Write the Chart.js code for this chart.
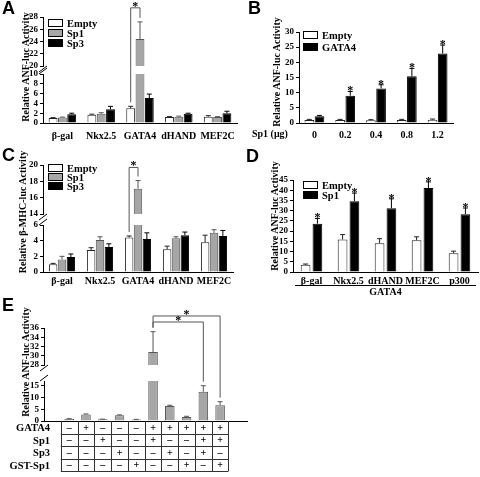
<!DOCTYPE html>
<html>
<head>
<meta charset="utf-8">
<title>Sp1 / GATA4 reporter assays</title>
<script src="https://cdn.jsdelivr.net/npm/chart.js"></script>
<style>
    body { margin: 0; background: #fff; }
    #fig {
        position: relative; width: 480px; height: 477px; overflow: hidden;
        font-family: "Liberation Serif", "Times New Roman", serif; font-weight: bold; color: #000;
    }
    #fig canvas { position: absolute; }
    .letter { position: absolute; font: bold 18px "Liberation Sans", Arial, sans-serif; line-height: 18px; }
    .ytitle {
        position: absolute; font-size: 10px; white-space: nowrap;
        transform: translate(-50%, -50%) rotate(-90deg);
    }
    .leg { position: absolute; font-size: 10.5px; display: flex; align-items: center; height: 10px; white-space: nowrap; }
    .leg .box { width: 13px; height: 6px; border: 1px solid #000; margin-right: 4px; }
    .note { position: absolute; font-size: 10px; white-space: nowrap; }
</style>
</head>
<body>
<div id="fig"></div>

<script>
    // ---------- data ----------
    const genes = ['β-gal', 'Nkx2.5', 'GATA4', 'dHAND', 'MEF2C'];

    // A: ANF-luc, Empty / Sp1 / Sp3
    const aEmpty    = [1.0, 1.7, 3.0, 1.2, 1.3];
    const aEmptyErr = [1.1, 1.8, 3.4, 1.3, 1.5];
    const aSp1      = [1.1, 1.9, 24.4, 1.3, 1.2];
    const aSp1Err   = [1.2, 2.1, 27.2, 1.4, 1.3];
    const aSp3      = [1.8, 2.8, 5.1, 1.9, 2.0];
    const aSp3Err   = [2.0, 3.4, 5.9, 2.0, 2.4];

    // B: dose of Sp1 (ug)
    const doses     = ['0', '0.2', '0.4', '0.8', '1.2'];
    const bEmpty    = [1.0, 1.0, 0.9, 1.0, 1.1];
    const bEmptyErr = [1.2, 1.2, 1.1, 1.2, 1.3];
    const bGata     = [2.2, 9.0, 11.4, 15.4, 22.9];
    const bGataErr  = [2.5, 10.4, 12.6, 18.0, 25.7];

    // C: beta-MHC-luc
    const cEmpty    = [1.0, 2.8, 4.4, 2.9, 3.8];
    const cEmptyErr = [1.1, 3.1, 4.6, 3.3, 4.7];
    const cSp1      = [1.6, 4.1, 17.1, 4.3, 5.0];
    const cSp1Err   = [2.0, 4.5, 18.1, 4.5, 5.4];
    const cSp3      = [1.9, 3.2, 4.2, 4.7, 4.6];
    const cSp3Err   = [2.3, 3.6, 5.0, 5.1, 5.3];

    // D: GATA4 + partner
    const dTargets  = ['β-gal', 'Nkx2.5', 'dHAND', 'MEF2C', 'p300'];
    const dEmpty    = [3.5, 15.9, 14.1, 15.5, 9.2];
    const dEmptyErr = [3.9, 18.3, 16.3, 17.2, 10.2];
    const dSp1      = [23.6, 34.6, 31.2, 41.1, 28.3];
    const dSp1Err   = [26.2, 38.6, 35.8, 44.1, 31.3];

    // E: combinations
    const eVals = [0.8, 2.8, 0.7, 2.4, 0.6, 30.8, 6.4, 1.7, 12.4, 6.7];
    const eErr  = [1.0, 3.0, 0.8, 2.6, 0.7, 35.2, 6.7, 2.0, 15.0, 8.2];
    const eRows = ['GATA4', 'Sp1', 'Sp3', 'GST-Sp1'];
    const eTable = [
        [0, 1, 0, 0, 0, 1, 1, 1, 1, 1],
        [0, 0, 1, 0, 0, 1, 0, 0, 1, 1],
        [0, 0, 0, 1, 0, 0, 1, 0, 1, 0],
        [0, 0, 0, 0, 1, 0, 0, 1, 0, 1]
    ];

    // ---------- setup ----------
    Chart.defaults.font.family = '"Liberation Serif", "Times New Roman", serif';
    Chart.defaults.font.weight = 'bold';
    Chart.defaults.font.size = 9;
    Chart.defaults.color = '#000';
    Chart.defaults.animation = false;

    const fig = document.getElementById('fig');
    const charts = {};
    const M = 8;
    const STAR_FONT = 'bold 12px "Liberation Serif", serif';

    function line(ctx, x1, y1, x2, y2) {
        ctx.beginPath();
        ctx.moveTo(x1, y1);
        ctx.lineTo(x2, y2);
        ctx.stroke();
    }

    // error bars, stars, brackets, axis breaks, table
    function decor(spec) {
        return {
            id: 'decor',
            afterDatasetsDraw(chart) {
                const ctx = chart.ctx, a = chart.chartArea, y = chart.scales.y;
                ctx.save();
                ctx.beginPath();
                ctx.rect(a.left, a.top - 1, a.right - a.left, a.bottom - a.top + 1);
                ctx.clip();
                ctx.lineWidth = 1;
                chart.data.datasets.forEach((ds, i) => {
                    ctx.strokeStyle = ds.borderColor;
                    chart.getDatasetMeta(i).data.forEach((bar, j) => {
                        const top = y.getPixelForValue(ds.err[j]);
                        line(ctx, bar.x, bar.y, bar.x, top);
                        line(ctx, bar.x - 2.5, top, bar.x + 2.5, top);
                    });
                });
                ctx.restore();
            },
            afterDraw(chart) {
                const ctx = chart.ctx, a = chart.chartArea, y = chart.scales.y;
                ctx.save();
                ctx.strokeStyle = '#000';
                ctx.fillStyle = '#000';
                ctx.lineWidth = 1;
                if (spec.breakBottom) line(ctx, a.left - 4, a.bottom + 6, a.left + 4, a.bottom);
                if (spec.breakTop) line(ctx, a.left - 4, a.top, a.left + 4, a.top - 6);

                ctx.font = STAR_FONT;
                ctx.textAlign = 'center';
                ctx.textBaseline = 'alphabetic';
                (spec.stars || []).forEach(([d, j]) => {
                    const bar = chart.getDatasetMeta(d).data[j];
                    ctx.fillText('*', bar.x, y.getPixelForValue(chart.data.datasets[d].err[j]) + 3);
                });

                // bracket ends may sit in the lower segment of a broken axis
                const endY = (d, j) => {
                    const e = chart.data.datasets[d].err[j];
                    if (!spec.lower || e >= y.min) return y.getPixelForValue(e);
                    const lo = charts[spec.lower];
                    return lo.canvas.offsetTop + lo.scales.y.getPixelForValue(e) - chart.canvas.offsetTop;
                };
                (spec.brackets || []).forEach(br => {
                    const xa = chart.getDatasetMeta(br.a[0]).data[br.a[1]].x;
                    const xb = chart.getDatasetMeta(br.b[0]).data[br.b[1]].x;
                    const top = y.getPixelForValue(br.top);
                    ctx.strokeStyle = '#555';
                    ctx.beginPath();
                    ctx.moveTo(xa, endY(br.a[0], br.a[1]) - 4);
                    ctx.lineTo(xa, top);
                    ctx.lineTo(xb, top);
                    ctx.lineTo(xb, endY(br.b[0], br.b[1]) - 4);
                    ctx.stroke();
                    ctx.fillText('*', (xa + xb) / 2, top + 2);
                });

                if (spec.table) {
                    const x = chart.scales.x, n = spec.table.rows, cols = spec.table.cols, h = 12.5;
                    const t0 = a.bottom;
                    ctx.strokeStyle = '#333';
                    for (let i = 0; i <= cols; i++) {
                        const px = Math.round(x.getPixelForValue(i - 0.5)) + 0.5;
                        line(ctx, px, t0, px, t0 + n * h);
                    }
                    const xl = x.getPixelForValue(-0.5), xr = x.getPixelForValue(cols - 0.5);
                    for (let r = 1; r <= n; r++) {
                        const py = Math.round(t0 + r * h) + 0.5;
                        line(ctx, xl, py, xr, py);
                    }
                }
                ctx.restore();
            }
        };
    }

    function makeChart(name, area, yW, xH, pad, config, spec) {
        pad = Object.assign({ l: M, t: M, r: M, b: M }, pad);
        const c = document.createElement('canvas');
        const w = pad.l + yW + (area.r - area.l) + pad.r;
        const h = pad.t + (area.b - area.t) + xH + pad.b;
        c.width = w;
        c.height = h;
        c.style.left = (area.l - yW - pad.l) + 'px';
        c.style.top = (area.t - pad.t) + 'px';
        c.style.width = w + 'px';
        c.style.height = h + 'px';
        fig.appendChild(c);
        const o = config.options;
        o.responsive = false;
        o.layout = { padding: { left: pad.l, top: pad.t, right: pad.r, bottom: pad.b } };
        o.scales.y.afterFit = s => { s.width = yW; };
        if (o.scales.x.display !== false) o.scales.x.afterFit = s => { s.height = xH; };
        o.plugins = { legend: { display: false }, tooltip: { enabled: false } };
        config.plugins = [decor(spec || {})];
        charts[name] = new Chart(c, config);
        return charts[name];
    }

    function barSet(label, data, err, fill, edge, skip) {
        return {
            label, data, err,
            backgroundColor: fill, borderColor: edge, borderWidth: 1,
            borderSkipped: skip === undefined ? 'start' : skip, clip: 0
        };
    }

    function yAxis(min, max, step) {
        return {
            min, max,
            ticks: { stepSize: step, padding: 2, includeBounds: false, font: { size: 9, lineHeight: 0.5 } },
            grid: { drawOnChartArea: false, drawTicks: true, tickLength: 3, color: '#000' },
            border: { display: true, color: '#000', width: 1 }
        };
    }

    function xAxis(pad) {
        return {
            grid: { drawOnChartArea: false, drawTicks: false },
            border: { display: true, color: '#000', width: 1 },
            ticks: { font: { size: 10 }, padding: pad, autoSkip: false, maxRotation: 0 }
        };
    }

    function barOpts(cat, bar) {
        return { bar: { categoryPercentage: cat, barPercentage: bar } };
    }

    // ---------- A ----------
    const aSets = skip => [
        barSet('Empty', aEmpty, aEmptyErr, '#ffffff', '#222', skip),
        barSet('Sp1', aSp1, aSp1Err, '#a6a6a6', '#555', skip),
        barSet('Sp3', aSp3, aSp3Err, '#000000', '#000', skip)
    ];
    makeChart('Alow', { l: 43, r: 237, t: 74, b: 123 }, 18, 18, {}, {
        type: 'bar',
        data: { labels: genes, datasets: aSets() },
        options: { datasets: barOpts(0.72, 0.95), scales: { x: xAxis(7), y: yAxis(0, 10, 2) } }
    }, { breakTop: true });
    makeChart('Aup', { l: 43, r: 237, t: 17, b: 66 }, 18, 0, { t: 17, b: 61 }, {
        type: 'bar',
        data: { labels: genes, datasets: aSets(false) },
        options: { datasets: barOpts(0.72, 0.95), scales: { x: { display: false }, y: yAxis(20, 28, 2) } }
    }, { breakBottom: true, lower: 'Alow', brackets: [{ a: [0, 2], b: [1, 2], top: 29.5 }] });

    // ---------- B ----------
    makeChart('B', { l: 299, r: 453, t: 32, b: 123 }, 18, 16, {}, {
        type: 'bar',
        data: {
            labels: doses,
            datasets: [
                barSet('Empty', bEmpty, bEmptyErr, '#ffffff', '#222'),
                barSet('GATA4', bGata, bGataErr, '#000000', '#000')
            ]
        },
        options: { datasets: barOpts(0.66, 0.95), scales: { x: xAxis(6), y: yAxis(0, 30, 5) } }
    }, { stars: [[1, 1], [1, 2], [1, 3], [1, 4]] });

    // ---------- C ----------
    const cSets = skip => [
        barSet('Empty', cEmpty, cEmptyErr, '#ffffff', '#222', skip),
        barSet('Sp1', cSp1, cSp1Err, '#a6a6a6', '#555', skip),
        barSet('Sp3', cSp3, cSp3Err, '#000000', '#000', skip)
    ];
    makeChart('Clow', { l: 43, r: 233, t: 225, b: 272 }, 18, 16, {}, {
        type: 'bar',
        data: { labels: genes, datasets: cSets() },
        options: { datasets: barOpts(0.7, 0.95), scales: { x: xAxis(3), y: yAxis(0, 6, 2) } }
    }, { breakTop: true });
    makeChart('Cup', { l: 43, r: 233, t: 165, b: 214 }, 18, 0, { t: 20, b: 62 }, {
        type: 'bar',
        data: { labels: genes, datasets: cSets(false) },
        options: { datasets: barOpts(0.7, 0.95), scales: { x: { display: false }, y: yAxis(14, 20, 2) } }
    }, { breakBottom: true, lower: 'Clow', brackets: [{ a: [0, 2], b: [1, 2], top: 19.7 }] });

    // ---------- D ----------
    makeChart('D', { l: 293, r: 478, t: 180, b: 272 }, 18, 14, { r: 2 }, {
        type: 'bar',
        data: {
            labels: dTargets,
            datasets: [
                barSet('Empty', dEmpty, dEmptyErr, '#ffffff', '#222'),
                barSet('Sp1', dSp1, dSp1Err, '#000000', '#000')
            ]
        },
        options: { datasets: barOpts(0.64, 0.82), scales: { x: xAxis(3), y: yAxis(0, 45, 5) } }
    }, { stars: [[1, 0], [1, 1], [1, 2], [1, 3], [1, 4]] });

    // ---------- E ----------
    const ePoints = eVals.map((v, i) => ({ x: i, y: v }));
    const eX = show => ({
        type: 'linear', min: -1, max: 10.1, display: show,
        grid: { drawOnChartArea: false, drawTicks: false },
        border: { display: true, color: '#000', width: 1 },
        ticks: {
            stepSize: 1, includeBounds: false, autoSkip: false, maxRotation: 0, padding: 1,
            font: { size: 10, lineHeight: 1.25 },
            callback: v => (v >= 0 && v < eVals.length) ? eTable.map(r => r[v] ? '+' : '–') : ''
        }
    });
    makeChart('Elow', { l: 44, r: 247, t: 381, b: 421 }, 18, 54, { b: 2 }, {
        type: 'bar',
        data: { datasets: [barSet('ANF-luc', ePoints, eErr, '#a6a6a6', '#555')] },
        options: { datasets: barOpts(0.6, 0.95), scales: { x: eX(true), y: yAxis(0, 17, 5) } }
    }, { breakTop: true, table: { rows: eRows.length, cols: eVals.length } });
    makeChart('Eup', { l: 44, r: 247, t: 328, b: 365 }, 18, 0, { t: 20, b: 60 }, {
        type: 'bar',
        data: { datasets: [barSet('ANF-luc', ePoints, eErr, '#a6a6a6', '#555', false)] },
        options: { datasets: barOpts(0.6, 0.95), scales: { x: eX(false), y: yAxis(28, 36, 2) } }
    }, {
        breakBottom: true, lower: 'Elow',
        brackets: [{ a: [0, 5], b: [0, 9], top: 38.6 }, { a: [0, 5], b: [0, 8], top: 37.3 }]
    });

    // ---------- text around the plots ----------
    function addDiv(cls, text, css) {
        const d = document.createElement('div');
        d.className = cls;
        d.textContent = text;
        Object.assign(d.style, css);
        fig.appendChild(d);
        return d;
    }
    function legend(x, y0, step, names, fills) {
        names.forEach((n, i) => {
            const d = addDiv('leg', '', { left: x + 'px', top: (y0 + i * step - 5) + 'px' });
            const b = document.createElement('span');
            b.className = 'box';
            b.style.background = fills[i];
            d.appendChild(b);
            d.appendChild(document.createTextNode(n));
        });
    }

    [['A', 2, -1], ['B', 248, -1], ['C', 2, 146], ['D', 246, 147], ['E', 2, 296]].forEach(([t, x, y]) =>
        addDiv('letter', t, { left: x + 'px', top: y + 'px' }));

    const anf = 'Relative ANF-luc Activity';
    [[anf, 25, 67], [anf, 276, 72], ['Relative β-MHC-luc Activity', 22, 212],
     [anf, 274, 216], [anf, 25, 362]].forEach(([t, x, y]) =>
        addDiv('ytitle', t, { left: x + 'px', top: y + 'px' }));

    legend(48, 23, 10, ['Empty', 'Sp1', 'Sp3'], ['#ffffff', '#a6a6a6', '#000000']);
    legend(303, 35, 12, ['Empty', 'GATA4'], ['#ffffff', '#000000']);
    legend(48, 168, 9, ['Empty', 'Sp1', 'Sp3'], ['#ffffff', '#a6a6a6', '#000000']);
    legend(303, 185, 10, ['Empty', 'Sp1'], ['#ffffff', '#000000']);

    addDiv('note', 'Sp1 (μg)', { left: '252px', top: '128px' });
    addDiv('note', '', { left: '295px', top: '285px', width: '181px', borderTop: '1px solid #000' });
    addDiv('note', 'GATA4', { left: '295px', top: '286px', width: '181px', textAlign: 'center' });
    eRows.forEach((r, i) => addDiv('note', r, {
        left: '0px', width: '50px', textAlign: 'right', fontSize: '10.5px',
        top: (422 + i * 12.5) + 'px', lineHeight: '12.5px'
    }));
</script>
</body>
</html>
